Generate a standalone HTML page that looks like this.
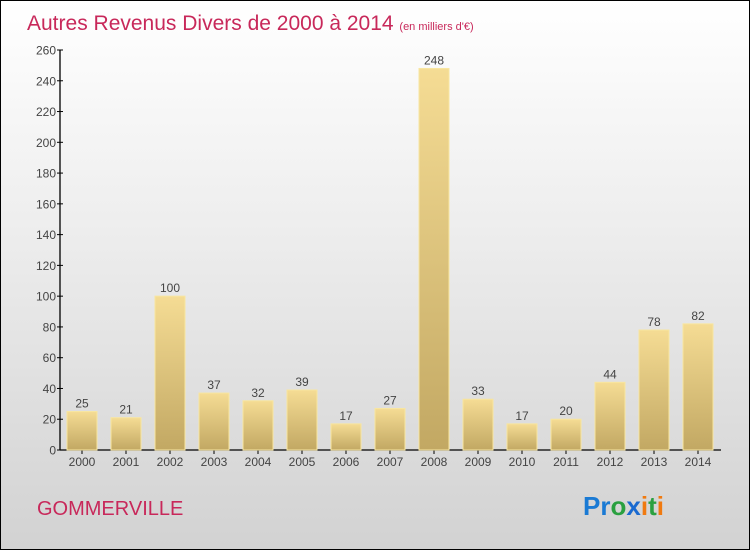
<!DOCTYPE html>
<html><head><meta charset="utf-8"><style>
html,body{margin:0;padding:0}
body{width:750px;height:550px;overflow:hidden}
#c{position:relative;width:748px;height:548px;border:1px solid #000;background:linear-gradient(#ffffff 0%,#eeeeee 40%,#d2d2d2 100%);font-family:"Liberation Sans",sans-serif}
</style></head><body>
<div id="c">
<svg width="748" height="548" xmlns="http://www.w3.org/2000/svg">
<defs><linearGradient id="bg" x1="0" y1="0" x2="0" y2="1"><stop offset="0" stop-color="#f5dc94"/><stop offset="1" stop-color="#c2a863"/></linearGradient></defs>
<text x="26" y="29" font-size="21" fill="#c8285a">Autres Revenus Divers de 2000 à 2014 <tspan font-size="11">(en milliers d'€)</tspan></text>
<g id="axes"></g><g id="bars"></g>
<text x="36" y="514" font-size="20" fill="#c8285a">GOMMERVILLE</text>
<text x="582" y="514" font-size="26" font-weight="bold"><tspan fill="#1a7ad4">Pr</tspan><tspan fill="#2aa040">o</tspan><tspan fill="#1a6ad0">x</tspan><tspan fill="#f07a10">i</tspan><tspan fill="#2aa040">t</tspan><tspan fill="#f07a10">i</tspan></text>
</svg></div>
<script>
const years=["2000","2001","2002","2003","2004","2005","2006","2007","2008","2009","2010","2011","2012","2013","2014"];
const values=[25,21,100,37,32,39,17,27,248,33,17,20,44,78,82];
const yTicks=[0,20,40,60,80,100,120,140,160,180,200,220,240,260];
const NS="http://www.w3.org/2000/svg";
const x0=59,slot=44,yBase=449,yTop=49,yMax=260;
const yS=v=>yBase-(yBase-yTop)*v/yMax;
const xS=i=>x0+slot*i+slot/2;
function mk(t,a,p){const e=document.createElementNS(NS,t);for(const k in a)e.setAttribute(k,a[k]);p.appendChild(e);return e;}
const ax=document.getElementById('axes'),bs=document.getElementById('bars');
let l=mk('line',{x1:x0,y1:yTop,x2:x0,y2:yBase,stroke:'#000','stroke-width':1.3},ax);


l=mk('line',{x1:x0,y1:yBase,x2:x0+slot*15+1,y2:yBase,stroke:'#000','stroke-width':1.3},ax);


yTicks.forEach(v=>{
 const y=yS(v);
 mk('line',{x1:x0-3,y1:y,x2:x0+3,y2:y,stroke:'#000'},ax);
 const t=mk('text',{x:x0-4,y:y+4.5,'text-anchor':'end','font-size':12,fill:'#444'},ax);
 t.textContent=v;
 
 
});
values.forEach((v,i)=>{
 const cx=xS(i),y=yS(v);
 const r=mk('rect',{x:cx-15,y:y,width:30,height:yBase-y,fill:'url(#bg)',stroke:'#f8e6a0','stroke-width':1},bs);
 
 
 const t=mk('text',{x:cx,y:y-4,'text-anchor':'middle','font-size':12,fill:'#444'},bs);
 t.textContent=v;
 
 
 mk('line',{x1:cx,y1:yBase,x2:cx,y2:yBase+4,stroke:'#000'},ax);
 const xt=mk('text',{x:cx,y:yBase+16,'text-anchor':'middle','font-size':12,fill:'#444'},ax);
 xt.textContent=years[i];
 
 
});
</script>
</body></html>
